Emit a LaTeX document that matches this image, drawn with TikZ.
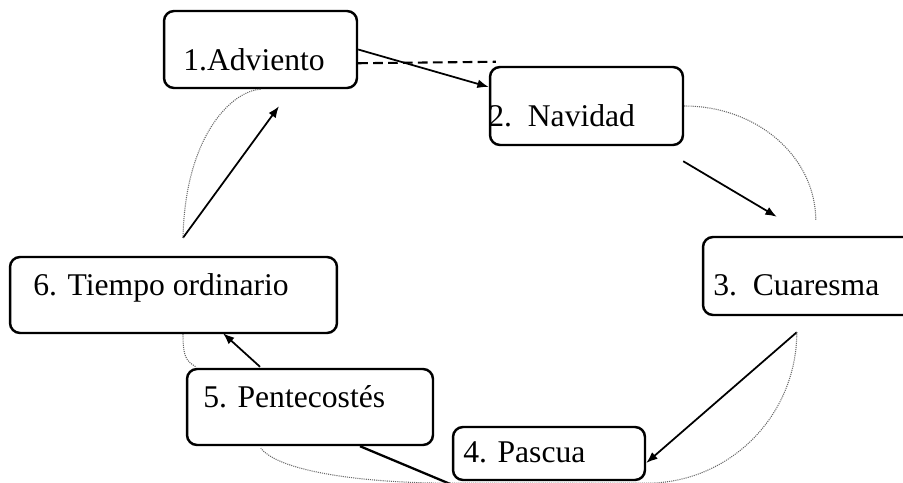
\documentclass[tikz,border=0pt]{standalone}
\usepackage{fontspec}
\setmainfont{Liberation Serif}
\usepackage{tikz}
\usetikzlibrary{arrows.meta, positioning, calc}
\definecolor{cyclegray}{HTML}{666666}

\begin{document}
\begin{tikzpicture}[x=0.02cm, y=-0.02cm,
    season/.style={draw=black, line width=1.4pt, rounded corners=0.2cm, inner sep=0pt},
    seasontext/.style={anchor=base west, inner sep=0pt, font=\fontsize{18}{22}\selectfont},
    flow/.style={line width=1pt, -{Latex[length=6.5pt,width=5pt]}},
    cycle/.style={cyclegray, line width=0.6pt, dash pattern=on 0.6pt off 0.6pt}]
  \useasboundingbox (0,0) rectangle (903,483);

  % Boxes of the liturgical year
  \node[season, minimum width=3.86cm, minimum height=1.54cm] (adviento) at (260.5,49.5) {};
  \node[season, minimum width=3.86cm, minimum height=1.56cm] (navidad) at (586.5,106) {};
  \node[season, minimum width=4.54cm, minimum height=1.56cm] (cuaresma) at (816.5,276) {};
  \node[season, minimum width=3.84cm, minimum height=1.06cm] (pascua) at (549,453.5) {};
  \node[season, minimum width=4.92cm, minimum height=1.52cm] (pentecostes) at (310,407) {};
  \node[season, minimum width=6.54cm, minimum height=1.52cm] (ordinario) at (173.5,295) {};

  % Labels
  \node[seasontext] (advientoLbl) at (183,71) {1.Adviento};
  \node[seasontext] (navidadLbl) at (488,127) {2.\hspace{0.5em}Navidad};
  \node[seasontext] (cuaresmaLbl) at (713,295) {3.\hspace{0.5em}Cuaresma};
  \node[seasontext] (pascuaLbl) at (463,462) {4. Pascua};
  \node[seasontext] (pentecostesLbl) at (203,407) {5. Pentecostés};
  \node[seasontext] (ordinarioLbl) at (33,295) {6. Tiempo ordinario};

  % Free ends of the arrows
  \coordinate (dashEnd) at ($(navidad.north west)+(7,-4)$);
  \coordinate (navOut) at ($(navidad.south east)+(-1,15)$);
  \coordinate (cuaIn) at ($(cuaresma.north west)+(75,-19)$);
  \coordinate (cuaOut) at ($(cuaresma.south west)+(95,16)$);
  \coordinate (pasLow) at ($(pascua.south west)+(-1,3)$);
  \coordinate (pentLow) at ($(pentecostes.south)+(50,0)$);
  \coordinate (pentOut) at ($(pentecostes.north)+(-50,-1)$);
  \coordinate (ordIn) at ($(ordinario.south)+(49.5,-1)$);
  \coordinate (ordOut) at ($(ordinario.north)+(9.5,-18)$);
  \coordinate (advIn) at ($(adviento.south)+(18.5,17)$);
  \coordinate (cuaTop) at ($(cuaresma.north west)+(114,-15)$);

  % Arrows round the year
  \draw[flow] (adviento.east) -- (navidad.169);
  \draw[line width=1.2pt, dash pattern=on 5.5pt off 3pt] (adviento.-8) -- (dashEnd);
  \draw[flow] (navOut) -- (cuaIn);
  \draw[flow] (cuaOut) -- ($(pascua.east)+(0,9.5)$);
  \draw[line width=1.3pt] (pentLow) -- (pasLow);
  \draw[flow] (pentOut) -- (ordIn);
  \draw[flow] (ordOut) -- (advIn);

  % Dotted circle behind the boxes
  \draw[cycle] (adviento.south) .. controls +(-30,2) and +(2,-100) .. (ordOut);
  \draw[cycle] (navidad.east) .. controls +(73,0) and +(0,-64) .. (cuaTop);
  \draw[cycle] (cuaOut) .. controls +(0,83) and +(84,0) .. ($(pascua.south east)+(0,2)$)
    -- ($(pascua.south west)+(0,2)$)
    .. controls +(-80,0) and +(20,25) .. ($(pentecostes.south west)+(75,2)$);
  \draw[cycle] ($(ordinario.south)+(9.5,0)$) .. controls +(0,22) and +(-10,-6) .. ($(pentecostes.north west)+(10,-1)$);
\end{tikzpicture}
\end{document}
